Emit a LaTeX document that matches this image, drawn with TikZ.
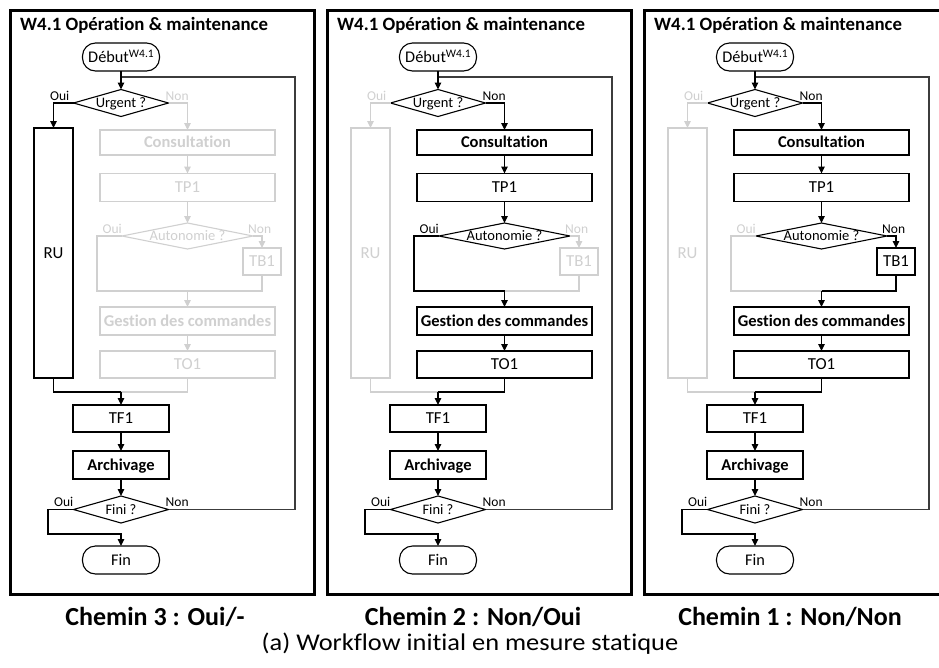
\documentclass[tikz,border=0pt]{standalone}
\usepackage{fontspec}
\setmainfont{Carlito}[Ligatures=NoCommon]
\newfontfamily\widefont[FakeStretch=1.1,Ligatures=NoCommon]{Carlito}
\usetikzlibrary{shapes.geometric,arrows.meta}
\definecolor{faded}{RGB}{208,208,208}
\definecolor{loopc}{RGB}{60,60,60}
\newcommand\setfs[1]{\fontsize{#1}{#1}\selectfont}
\tikzset{
  base/.style={inner sep=0pt, outer sep=0pt, line width=1.1pt, text height=10.5pt, text depth=0pt},
  proc/.style={base, draw, rectangle, font=\setfs{16.8}},
  keyproc/.style={base, draw, rectangle, line width=2.8pt, font=\bfseries\setfs{16.5}},
  term/.style={base, draw, rectangle, rounded corners=13pt, font=\setfs{16.3}},
  decision/.style={base, draw, diamond, aspect=3.5, font=\setfs{14.5}, text height=9.5pt},
  lbl/.style={inner sep=0pt, font=\setfs{13.5}},
  panelframe/.style={draw, line width=3pt, minimum width=304pt, minimum height=584pt, inner sep=0pt},
  ptitle/.style={inner sep=0pt, font=\bfseries\setfs{18.8}},
  flow/.style={line width=1.1pt, -{Triangle[length=7pt,width=6.5pt]}},
  link/.style={line width=1.1pt},
  captionb/.style={inner sep=0pt, font=\bfseries\setfs{26}},
  captionr/.style={inner sep=0pt, font=\widefont\setfs{24}}
}
% #1 id, #2 x shift, #3 RU colour, #4 main colour, #5 autonomie-oui colour, #6 autonomie-non colour
\newcommand\drawpanel[6]{%
\begin{scope}[xshift=#2pt]
  \node[panelframe] (#1-frame) at (162,302) {};
  \node[ptitle, anchor=base west] (#1-title) at (20,30) {W4.1 Opération \& maintenance};
  \node[term, minimum width=77pt, minimum height=28pt] (#1-deb) at (121,57) {Début\raisebox{5pt}{\setfs{11.5}W4.1}};
  \node[decision, minimum width=95pt, minimum height=27pt] (#1-urg) at (121,103) {Urgent ?};
  \node[proc, #3, minimum width=39pt, minimum height=250pt] (#1-ru) at (53.5,253) {RU};
  \node[keyproc, #4, minimum width=175pt, minimum height=25pt] (#1-cons) at (187.5,142.5) {Consultation};
  \node[proc, #4, minimum width=175pt, minimum height=28pt] (#1-tp1) at (187.5,187.5) {TP1};
  \node[decision, #4, aspect=5, minimum width=131pt, minimum height=26pt] (#1-aut) at (187.5,236) {Autonomie ?};
  \node[proc, #6, minimum width=38pt, minimum height=27pt] (#1-tb1) at (262,261.5) {TB1};
  \node[keyproc, #4, minimum width=175pt, minimum height=28pt] (#1-ges) at (187.5,321) {Gestion des commandes};
  \node[proc, #4, minimum width=175pt, minimum height=27pt] (#1-to1) at (187.5,364.5) {TO1};
  \node[proc, minimum width=96pt, minimum height=27pt] (#1-tf1) at (121,418.5) {TF1};
  \node[keyproc, minimum width=96pt, minimum height=28pt] (#1-arc) at (121,465) {Archivage};
  \node[decision, minimum width=95pt, minimum height=27pt] (#1-fini) at (121,509.5) {Fini ?};
  \node[term, minimum width=77pt, minimum height=28pt] (#1-fin) at (121,560) {Fin};
  % labels
  \node[lbl, #3, anchor=base east] (#1-l1) at ([xshift=-4pt,yshift=3pt]#1-urg.west) {Oui};
  \node[lbl, #4, anchor=base west] (#1-l2) at ([xshift=-3pt,yshift=3pt]#1-urg.east) {Non};
  \node[lbl, #5, anchor=base east] (#1-l3) at ([xshift=0pt,yshift=3pt]#1-aut.west) {Oui};
  \node[lbl, #6, anchor=base west] (#1-l4) at ([xshift=-5pt,yshift=3pt]#1-aut.east) {Non};
  \node[lbl, anchor=base east] (#1-l5) at ([xshift=0pt,yshift=3pt]#1-fini.west) {Oui};
  \node[lbl, anchor=base west] (#1-l6) at ([xshift=-3pt,yshift=3pt]#1-fini.east) {Non};
  % junctions
  \coordinate (#1-m0) at (121,77);
  \coordinate (#1-lp) at (295,77);
  \coordinate (#1-m1) at (187.5,291);
  \coordinate (#1-m2) at (121,392);
  \coordinate (#1-m3) at (121,534);
  \coordinate (#1-ao) at (97,236);
  \coordinate (#1-fo) at (48,509.5);
  % connectors
  \draw[flow, #3] (#1-urg.west) -| (#1-ru.north);
  \draw[flow, #4] (#1-urg.east) -| (#1-cons.north);
  \draw[flow, #4] (#1-cons) -- (#1-tp1);
  \draw[flow, #4] (#1-tp1) -- (#1-aut);
  \draw[link, #5] (#1-aut.west) -- (#1-ao) |- (#1-m1);
  \draw[flow, #6] (#1-aut.east) -| (#1-tb1.north);
  \draw[link, #6] (#1-tb1.south) |- (#1-m1);
  \draw[flow, #4] (#1-m1) -- (#1-ges.north);
  \draw[flow, #4] (#1-ges) -- (#1-to1);
  \draw[link, #4] (#1-to1.south) |- (#1-m2);
  \draw[link, #3] (#1-ru.south) |- (#1-m2);
  \draw[flow] (#1-m2) -- (#1-tf1.north);
  \draw[flow] (#1-tf1) -- (#1-arc);
  \draw[flow] (#1-arc) -- (#1-fini);
  \draw[flow] (#1-fini.west) -- (#1-fo) |- (#1-m3) -- (#1-fin.north);
  \draw[link, loopc] (#1-fini.east) -| (#1-lp) -- (#1-m0);
  \draw[flow] (#1-deb) -- (#1-urg);
\end{scope}}

\begin{document}
\begin{tikzpicture}[x=1pt, y=-1pt]
  \useasboundingbox (0,0) rectangle (939,667);
  \clip (0,0) rectangle (939,667);
  \fill[white] (0,0) rectangle (939,667);
  \drawpanel{pa}{0}{black}{faded}{faded}{faded}
  \drawpanel{pb}{317}{faded}{black}{black}{faded}
  \drawpanel{pc}{634}{faded}{black}{faded}{black}
  \node[captionb, anchor=base] (cap3) at (155,625) {Chemin 3 : Oui/-};
  \node[captionb, anchor=base] (cap2) at (473,625) {Chemin 2 : Non/Oui};
  \node[captionb, anchor=base] (cap1) at (790,625) {Chemin 1 : Non/Non};
  \node[captionr, anchor=base] (capa) at (470,650) {(a) Workflow initial en mesure statique};
\end{tikzpicture}
\end{document}
